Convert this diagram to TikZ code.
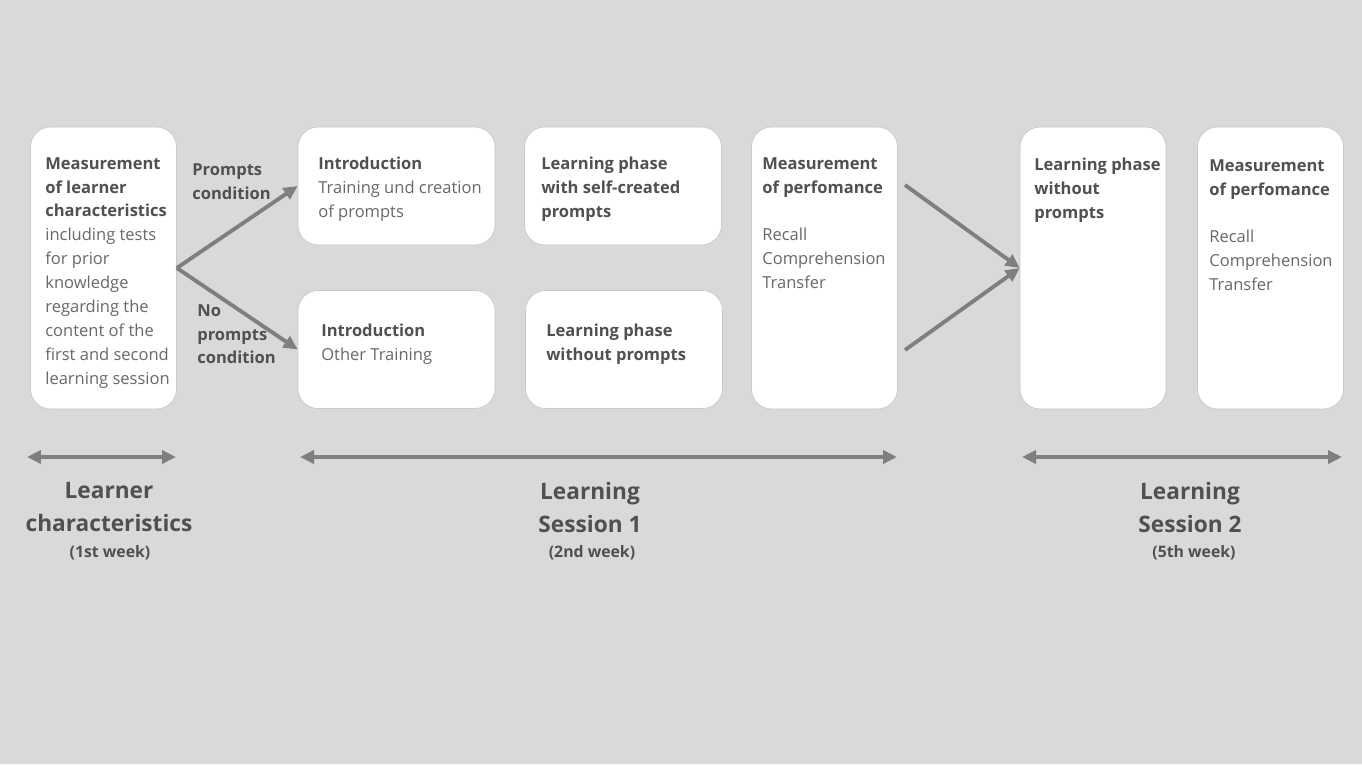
\documentclass[tikz,border=0pt]{standalone}
\usepackage{fontspec}
\setmainfont{Open Sans}
\usetikzlibrary{arrows.meta}
\definecolor{bggray}{HTML}{D9D9D9}
\definecolor{boldgray}{HTML}{505050}
\definecolor{textgray}{HTML}{686868}
\definecolor{arrowgray}{HTML}{7F7F7F}
\definecolor{edgegray}{HTML}{C9C9C9}
\newcommand{\stagehead}[1]{\textcolor{boldgray}{\textbf{#1}}}
\begin{document}
\begin{tikzpicture}[x=0.02cm, y=-0.02cm]
    \tikzstyle{stagebox}=[draw=edgegray, fill=white, rounded corners=0.4cm, minimum width=2.92cm, minimum height=5.64cm, inner sep=0pt]
    \tikzstyle{widebox}=[stagebox, minimum width=3.94cm, minimum height=2.36cm]
    \tikzstyle{boxtext}=[anchor=north west, align=left, inner sep=0pt, text=textgray, font=\fontsize{9.4}{13.6}\selectfont, execute at begin node=\strut]
    \tikzstyle{condtext}=[boxtext, text=boldgray, font=\bfseries\fontsize{9.4}{13.6}\selectfont]
    \tikzstyle{phasehead}=[anchor=north, align=center, inner sep=0pt, text=boldgray, font=\bfseries\fontsize{12.9}{18.8}\selectfont, execute at begin node=\strut]
    \tikzstyle{weeklabel}=[anchor=base, inner sep=0pt, text=boldgray, font=\bfseries\fontsize{9}{11}\selectfont]
    \tikzstyle{flow}=[arrowgray, line width=2.2pt, -{Triangle[length=0.28cm, width=0.26cm]}]
    \tikzstyle{timespan}=[arrowgray, line width=2.2pt, {Triangle[length=0.28cm, width=0.26cm]}-{Triangle[length=0.28cm, width=0.26cm]}]

    \fill[bggray] (0,0) rectangle (1362,764);

    \node[stagebox] (learner) at (103.5,268) {};
    \node[widebox] (introA) at (396.5,186) {};
    \node[widebox] (phaseA) at (623,186) {};
    \node[widebox] (introB) at (396.5,349.5) {};
    \node[widebox] (phaseB) at (624,349.5) {};
    \node[stagebox] (perfA) at (824.5,268) {};
    \node[stagebox] (phaseC) at (1093,268) {};
    \node[stagebox] (perfB) at (1270.5,268) {};

    \node[boxtext] (learnertxt) at (45,157) {\stagehead{Measurement}\\\stagehead{of learner}\\\stagehead{characteristics}\\including tests\\for prior\\knowledge\\regarding the\\content of the\\first and second\\learning session};
    \node[boxtext] (introAtxt) at (318,157) {\stagehead{Introduction}\\Training und creation\\of prompts};
    \node[boxtext] (phaseAtxt) at (541,157) {\stagehead{Learning phase}\\\stagehead{with self-created}\\\stagehead{prompts}};
    \node[boxtext] (introBtxt) at (321,324) {\stagehead{Introduction}\\Other Training};
    \node[boxtext] (phaseBtxt) at (546,324) {\stagehead{Learning phase}\\\stagehead{without prompts}};
    \node[boxtext] (perfAtxt) at (762,157) {\stagehead{Measurement}\\\stagehead{of perfomance}\\[13.6pt]Recall\\Comprehension\\Transfer};
    \node[boxtext] (phaseCtxt) at (1034,158) {\stagehead{Learning phase}\\\stagehead{without}\\\stagehead{prompts}};
    \node[boxtext] (perfBtxt) at (1209,159) {\stagehead{Measurement}\\\stagehead{of perfomance}\\[13.6pt]Recall\\Comprehension\\Transfer};

    \node[condtext] (promptcond) at (192,163) {Prompts\\condition};
    \node[condtext] (nopromptcond) at (197,304) {No\\prompts\\condition};

    \draw[flow] (learner.east) -- (introA.west);
    \draw[flow] (learner.east) -- (introB.west);
    \coordinate (outA) at (905,185);
    \coordinate (outB) at (905,350);
    \draw[flow] (outA) -- (phaseC.west);
    \draw[flow] (outB) -- (phaseC.west);

    \coordinate (spanLa) at (27,457);
    \coordinate (spanLb) at (176,457);
    \coordinate (spanAa) at (300,457);
    \coordinate (spanAb) at (897,457);
    \coordinate (spanBa) at (1022,457);
    \coordinate (spanBb) at (1342,457);
    \draw[timespan] (spanLa) -- (spanLb);
    \draw[timespan] (spanAa) -- (spanAb);
    \draw[timespan] (spanBa) -- (spanBb);

    \node[phasehead] (headL) at (109,482) {Learner\\characteristics};
    \node[weeklabel] (weekL) at (110,557) {(1st week)};
    \node[phasehead] (headA) at (590,482) {Learning\\Session 1};
    \node[weeklabel] (weekA) at (592,557) {(2nd week)};
    \node[phasehead] (headB) at (1190,482) {Learning\\Session 2};
    \node[weeklabel] (weekB) at (1194,557) {(5th week)};
\end{tikzpicture}
\end{document}
